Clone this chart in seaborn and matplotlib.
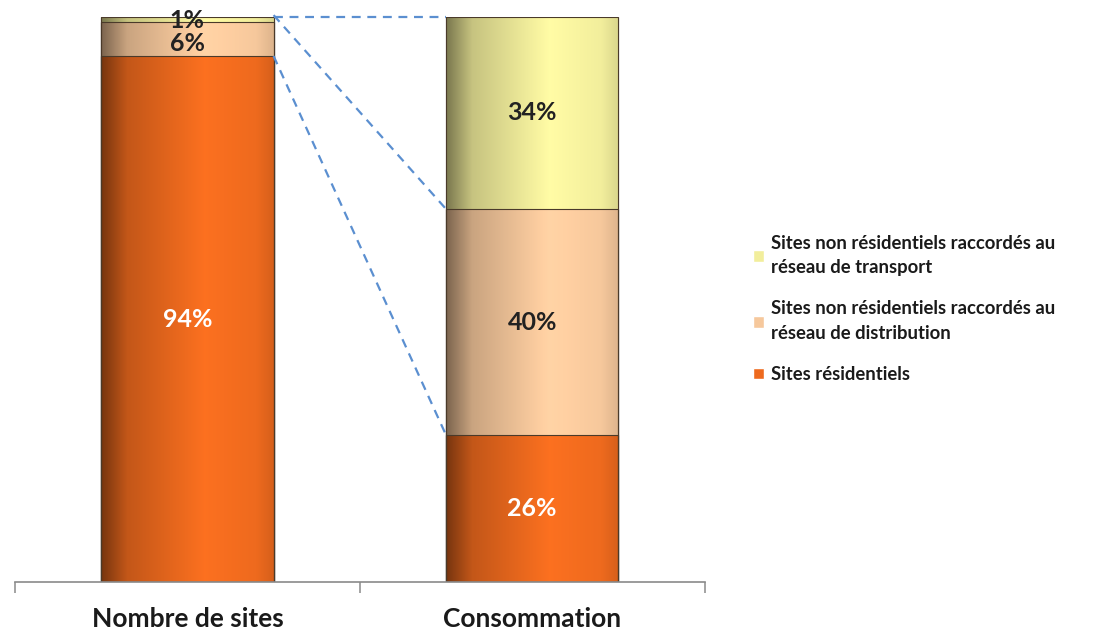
import matplotlib
matplotlib.use("Agg")
import matplotlib.pyplot as plt
import matplotlib.colors as mcolors
from matplotlib.patches import Patch
import numpy as np
import pandas as pd
import seaborn as sns

# data (labels as printed, they add to 101 on the left)
categories = ["Nombre de sites", "Consommation"]
residentiel = [94, 26]
distribution = [6, 40]
transport = [1, 34]
segment_names = ["Sites non résidentiels raccordés au\nréseau de transport",
                 "Sites non résidentiels raccordés au\nréseau de distribution",
                 "Sites résidentiels"]
colors = {"res": "#EE6A1E", "dis": "#F6C89C", "tra": "#F2EE9C"}

sns.set_theme(style="white")
plt.rcParams["font.family"] = ["Lato", "DejaVu Sans"]

res = np.array(residentiel, float)
dis = np.array(distribution, float)
tra = np.array(transport, float)
tot = res + dis + tra
# stacked shares scaled to 100
c1 = res / tot * 100
c2 = (res + dis) / tot * 100
c3 = np.full(len(categories), 100.0)

df = pd.DataFrame({"cat": categories, "c1": c1, "c2": c2, "c3": c3})

fig = plt.figure(figsize=(10.93, 6.3), dpi=100)
ax = fig.add_axes([0.0137, 0.0762, 0.631, 0.897])

# draw cumulative bars from tallest to shortest so they stack
for col, key in [("c3", "tra"), ("c2", "dis"), ("c1", "res")]:
    sns.barplot(data=df, x="cat", y=col, color=colors[key], width=0.5,
                saturation=1, ax=ax, edgecolor="#4a3a2a", linewidth=0.8)

# horizontal shading on each bar piece, dark on the left like the original
def shade(c):
    base = np.array(mcolors.to_rgb(c))
    xs = np.linspace(0, 1, 200)
    f = np.interp(xs, [0, 0.15, 0.6, 0.9, 1.0], [0.5, 0.82, 1.06, 1.0, 0.9])
    rgb = np.clip(base[None, :] * f[:, None], 0, 1)
    return rgb[None, :, :]

fills = ["tra", "tra", "dis", "dis", "res", "res"]
for p, key in zip(list(ax.patches), fills):
    x0, y0 = p.get_x(), p.get_y()
    w, h = p.get_width(), p.get_height()
    im = ax.imshow(shade(colors[key]), extent=[x0, x0 + w, y0, y0 + h],
                   aspect="auto", zorder=p.get_zorder() + 0.1, interpolation="bilinear")
    im.set_clip_path(p)
    edge = plt.Rectangle((x0, y0), w, h, fill=False, edgecolor="#4a3a2a",
                         linewidth=0.8, zorder=p.get_zorder() + 0.2)
    ax.add_patch(edge)

# value labels
lab = dict(ha="center", va="center", fontsize=18, fontweight="bold", zorder=10)
for i in range(len(categories)):
    ax.text(i, c1[i] / 2, f"{residentiel[i]}%", color="white", **lab)
    if i == 0:
        ax.text(i, c2[i] - 3.8, f"{distribution[i]}%", color="#222222", **lab)
        ax.text(i, 99.3, f"{transport[i]}%", color="#222222", **lab)
    else:
        ax.text(i, (c1[i] + c2[i]) / 2, f"{distribution[i]}%", color="#222222", **lab)
        ax.text(i, (c2[i] + c3[i]) / 2, f"{transport[i]}%", color="#222222", **lab)

# dashed connectors between the two bars
for a, b in [(c3[0], c3[1]), (c2[0] + 1.3, c2[1]), (c1[0], c1[1])]:
    ax.plot([0.25, 0.75], [a, b], ls=(0, (4, 3)), color="#5b8fd0", lw=1.6,
            zorder=12, clip_on=False)

ax.set_xlim(-0.5, 1.5)
ax.set_ylim(0, 100)
ax.set_xlabel("")
ax.set_ylabel("")
ax.set_yticks([])
for s in ["top", "right", "left"]:
    ax.spines[s].set_visible(False)
ax.spines["bottom"].set_color("#8a8a8a")
ax.spines["bottom"].set_linewidth(1.2)
ax.set_xticks([0, 1])
ax.set_xticklabels(categories, fontsize=19, fontweight="bold", color="#1a1a1a")
ax.set_xticks([-0.5, 0.5, 1.5], minor=True)
ax.tick_params(axis="x", which="major", length=0, pad=18)
ax.tick_params(axis="x", which="minor", length=8, width=1.1, color="#8a8a8a",
               bottom=True, direction="out")

handles = [Patch(facecolor=colors["tra"]), Patch(facecolor=colors["dis"]),
           Patch(facecolor=colors["res"])]
leg = fig.legend(handles, segment_names, loc="upper left", bbox_to_anchor=(0.674, 0.654),
                 frameon=False, prop={"size": 13.3, "weight": "bold"},
                 handlelength=0.6, handleheight=0.6, handletextpad=0.35, labelspacing=1.3)
for t in leg.get_texts():
    t.set_linespacing(1.55)
    t.set_color("#1a1a1a")

fig.savefig("out.png", dpi=100)
